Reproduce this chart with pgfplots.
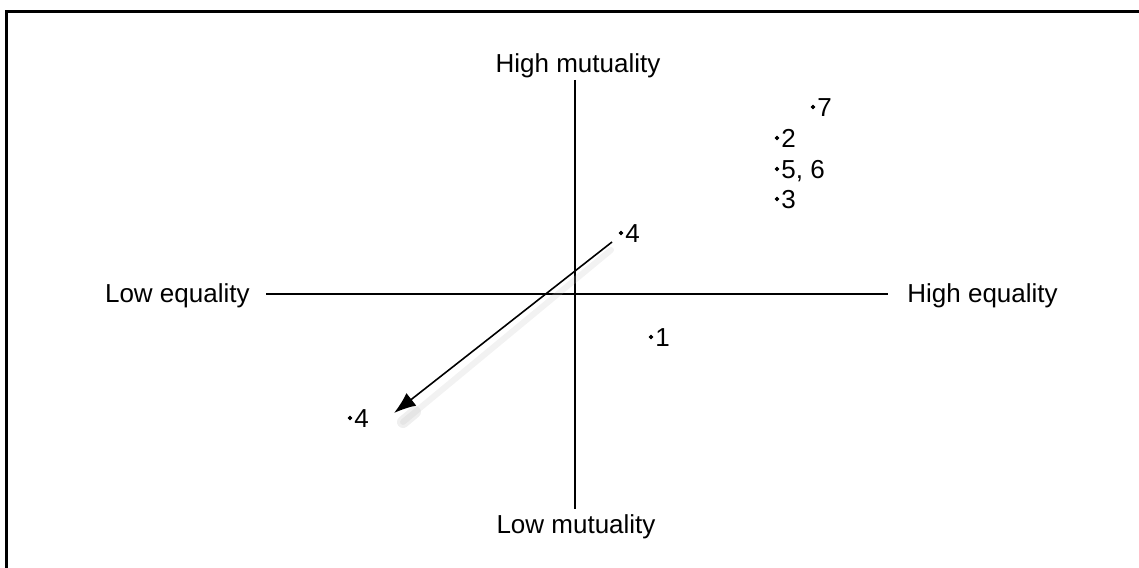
\documentclass[border=0pt]{standalone}
\usepackage{pgfplots}
\pgfplotsset{compat=1.18}
\usepackage{pgfplotstable}
\usepackage{fontspec}
\setmainfont{Liberation Sans}
\usetikzlibrary{arrows.meta}

% positions in image pixels, origin where the two axes cross
\pgfplotstableread{
x    y    lbl
238  187  7
202  156  2
202  125  {5, 6}
202  95   3
46   61   4
76   -43  1
-225 -124 4
}\points

\begin{document}
\begin{tikzpicture}
\fontsize{13bp}{15bp}\selectfont
\begin{axis}[
    scale only axis,
    width=569.5bp, height=284bp,
    xmin=-575, xmax=564,
    ymin=-274, ymax=294,
    hide axis,
    clip=false,
]
  \coordinate (bl) at (rel axis cs:0,0);
  \coordinate (tr) at (rel axis cs:1,1);

  % frame (top and left edges only are in view)
  \addplot[black, line width=1.5bp] coordinates {(-569,-274) (-569,282) (564,282)};

  % equality and mutuality axes
  \addplot[black, line width=1bp] coordinates {(-309,0) (313,0)};
  \addplot[black, line width=1bp] coordinates {(0,214) (0,-215)};

  % arrow shadow and arrow
  \addplot[gray!50, opacity=0.2, line width=3bp, line cap=round] coordinates {(36,44) (-172,-128)};
  \addplot[gray!50, opacity=0.25, line width=6bp, line cap=round] coordinates {(-160,-118) (-172,-128)};
  \addplot[black, line width=0.8bp, -{Latex[length=11bp,width=8bp]}] coordinates {(37,52) (-181,-119)};

  % points
  \addplot[only marks, mark=*, mark size=0.9bp, black,
    nodes near coords, point meta=explicit symbolic,
    nodes near coords style={anchor=west, inner sep=0pt, xshift=2bp,
      text height=9.3bp, text depth=0pt, font=\fontsize{13bp}{15bp}\selectfont}]
    table[x=x, y=y, meta=lbl] {\points};

  \node[anchor=base, inner sep=0pt] at (axis cs:3,221) {High mutuality};
  \node[anchor=base, inner sep=0pt] at (axis cs:1,-239) {Low mutuality};
  \node[anchor=base east, inner sep=0pt] at (axis cs:-325,-9) {Low equality};
  \node[anchor=base west, inner sep=0pt] at (axis cs:332,-9) {High equality};
\end{axis}
\pgfresetboundingbox
\path (bl) rectangle (tr);
\end{tikzpicture}
\end{document}
